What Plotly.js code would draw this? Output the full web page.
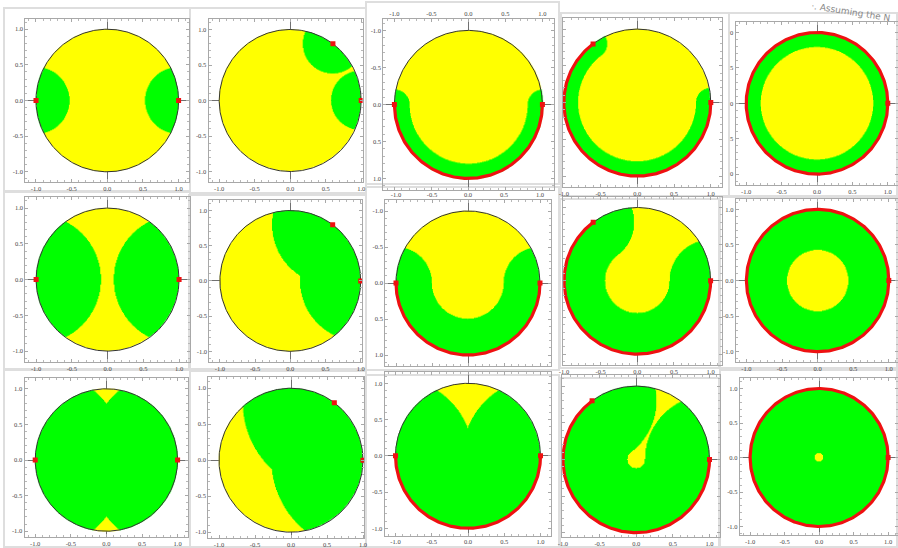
<!DOCTYPE html>
<html><head><meta charset="utf-8">
<script src="https://cdn.plot.ly/plotly-3.0.1.min.js"></script>
<style>html,body{margin:0;padding:0;background:#fff}#chart{width:898px;height:548px}</style>
</head><body><div id="chart"></div>
<script>
// ---------- DATA ----------
// red boundary points, angles in degrees
const col1Points = [0, 180];
const col2Points = [0, 53];
// red boundary arcs [startDeg, endDeg] (counter-clockwise)
const col3ArcFlipped = [0, 180];   // rows 1-2 are shown upside down
const col3ArcRow3 = [180, 360];
const col4Arc = [127, 360];
const col5Arc = [0, 360];
// reach (distance from the red set that is green), per row
const col1Reach = [0.47, 0.91, 1.277];
const col2Reach = [0.42, 0.86, 1.27];
const col3Reach = [0.205, 0.50, 1.07];
const col4Reach = [0.195, 0.56, 0.88];
const col5Reach = [0.205, 0.57, 0.94];
// tick labels
const tickVals = [-1, -0.5, 0, 0.5, 1];
const tickText = ['-1.0', '-0.5', '0.0', '0.5', '1.0'];
const tickTextCut = ['0', '5', '0', '5', '0'];
const diskRadius = 1;
const watermark = '\u00b7. Assuming the N';

// ---------- LAYOUT OF THE COLLAGE ----------
const W = 898, H = 548;
const panels = [
  {cx:107.3, cy:100.5, R:71.3, pts:col1Points, arcs:[], reach:col1Reach[0]},
  {cx:290.2, cy:100.5, R:71.0, pts:col2Points, arcs:[], reach:col2Reach[0], xhi:1.02},
  {cx:468.4, cy:104.4, R:74.0, pts:[], arcs:[col3ArcFlipped], reach:col3Reach[0], flip:true},
  {cx:637.3, cy:102.6, R:73.5, pts:[], arcs:[col4Arc], reach:col4Reach[0], xlo:-1.01, noY:true},
  {cx:817.0, cy:103.3, R:70.8, pts:[], arcs:[col5Arc], reach:col5Reach[0], cutY:true},
  {cx:107.6, cy:279.6, R:71.5, pts:col1Points, arcs:[], reach:col1Reach[1]},
  {cx:290.3, cy:280.9, R:70.4, pts:col2Points, arcs:[], reach:col2Reach[1], xhi:1.02},
  {cx:468.0, cy:283.0, R:72.0, pts:[], arcs:[col3ArcFlipped], reach:col3Reach[1], flip:true},
  {cx:637.3, cy:280.8, R:73.3, pts:[], arcs:[col4Arc], reach:col4Reach[1], xlo:-1.01, noY:true},
  {cx:817.6, cy:280.5, R:71.2, pts:[], arcs:[col5Arc], reach:col5Reach[1]},
  {cx:106.4, cy:460.0, R:71.2, pts:col1Points, arcs:[], reach:col1Reach[2], ylo:-1.08},
  {cx:291.0, cy:460.2, R:72.0, pts:col2Points, arcs:[], reach:col2Reach[2], xhi:1.02, ylo:-1.08},
  {cx:468.0, cy:455.8, R:72.5, pts:[], arcs:[col3ArcRow3], reach:col3Reach[2], ylo:-1.10},
  {cx:636.2, cy:459.4, R:73.3, pts:[], arcs:[col4Arc], reach:col4Reach[2], xlo:-1.01, noY:true, ylo:-1.06},
  {cx:819.1, cy:457.5, R:69.0, pts:[], arcs:[col5Arc], reach:col5Reach[2], ylo:-1.12}
];
// screenshot frames [x0,y0,x1,y1] in px
const frames = [
  [4,8,190,192],[190,8,366,193],[366,2,559,184],[561,13,729,196],[729,13,897,196],
  [4,191,190,369],[189,195,366,369],[366,187,559,370],[560,199,719,368],[720,197,897,368],
  [4,370,190,547],[190,371,366,547],[366,375,559,547],[560,378,719,547],[720,370,897,547]
];

const D = Math.PI / 180;
function inArc(phi, a0, a1) {
  if (a1 - a0 >= 360) return true;
  const d = (((phi - a0) % 360) + 360) % 360;
  return d <= (a1 - a0);
}
function distToSet(x, y, pts, arcs) {
  let best = Infinity;
  for (const a of pts) best = Math.min(best, Math.hypot(x - Math.cos(a*D)*diskRadius, y - Math.sin(a*D)*diskRadius));
  const rho = Math.hypot(x, y), phi = Math.atan2(y, x) / D;
  for (const [a0, a1] of arcs) {
    if (inArc(phi, a0, a1)) best = Math.min(best, diskRadius - rho);
    else {
      for (const a of [a0, a1]) best = Math.min(best, Math.hypot(x - Math.cos(a*D)*diskRadius, y - Math.sin(a*D)*diskRadius));
    }
  }
  return best;
}

const N = 301;
const grid = [];
for (let i = 0; i < N; i++) grid.push(-diskRadius + 2 * diskRadius * i / (N - 1));

const traces = [], layout = {
  width: W, height: H, margin: {l:0, r:0, t:0, b:0},
  paper_bgcolor: '#ffffff', plot_bgcolor: '#ffffff', showlegend: false,
  shapes: [], annotations: []
};

frames.forEach(f => {
  layout.shapes.push({type:'rect', xref:'paper', yref:'paper', layer:'below',
    x0:f[0]/W, x1:f[2]/W, y0:1-f[3]/H, y1:1-f[1]/H,
    line:{color:'#dedede', width:2}, fillcolor:'rgba(0,0,0,0)'});
});

panels.forEach((p, k) => {
  const n = k + 1, xa = 'x' + (n === 1 ? '' : n), ya = 'y' + (n === 1 ? '' : n);
  const xlo = p.xlo ?? -1.15;
  const xhi = Math.min(p.xhi ?? 1.15, (W - 0.5 - p.cx) / p.R);
  const ylo = p.ylo ?? -1.15, yhi = 1.15;
  const px0 = p.cx + xlo * p.R, px1 = p.cx + xhi * p.R;
  const pyTop = p.cy - yhi * p.R, pyBot = p.cy - ylo * p.R;
  const axBase = {
    showgrid:false, zeroline:true, zerolinecolor:'#707070', zerolinewidth:1,
    showline:true, mirror:'ticks', linecolor:'#a8a8a8', linewidth:1,
    ticks:'inside', ticklen:3, tickwidth:1, tickcolor:'#a8a8a8',
    tickmode:'array', tickvals:tickVals, ticktext:tickText,
    tickfont:{family:'Liberation Serif, DejaVu Serif, serif', size:6.5, color:'#444'},
    minor:{ticks:'inside', ticklen:2, tickwidth:1, tickcolor:'#b8b8b8', dtick:0.1, tick0:0},
    layer:'above traces', fixedrange:true
  };
  const xkey = 'xaxis' + (n === 1 ? '' : n), ykey = 'yaxis' + (n === 1 ? '' : n);
  layout[xkey] = Object.assign({}, axBase, {
    domain:[px0 / W, px1 / W], range:[xlo, xhi], anchor: ya,
    side: p.flip ? 'top' : 'bottom'
  });
  layout[ykey] = Object.assign({}, axBase, {
    domain:[1 - pyBot / H, 1 - pyTop / H],
    range: p.flip ? [yhi, ylo] : [ylo, yhi], anchor: xa,
    showticklabels: !p.noY,
    ticktext: p.cutY ? tickTextCut : tickText
  });

  // yellow / green regions
  const z = [];
  for (let j = 0; j < N; j++) {
    const row = [];
    for (let i = 0; i < N; i++) {
      const x = grid[i], y = grid[j];
      if (x*x + y*y > diskRadius*diskRadius * 1.004) { row.push(null); continue; }
      row.push(distToSet(x, y, p.pts, p.arcs) < p.reach ? 1 : 0);
    }
    z.push(row);
  }
  traces.push({type:'heatmap', x:grid, y:grid, z:z, xaxis:xa, yaxis:ya, zmin:0, zmax:1,
    colorscale:[[0,'#ffff00'],[1,'#00ff00']], showscale:false, hoverinfo:'skip', zsmooth:'fast'});

  // disk outline
  const cxs = [], cys = [];
  for (let a = 0; a <= 360; a += 1) { cxs.push(Math.cos(a*D)*diskRadius); cys.push(Math.sin(a*D)*diskRadius); }
  traces.push({type:'scatter', mode:'lines', x:cxs, y:cys, xaxis:xa, yaxis:ya,
    line:{color:'#333', width:1}, hoverinfo:'skip'});

  // red arcs
  p.arcs.forEach(([a0, a1]) => {
    const ax = [], ay = [];
    for (let a = a0; a <= a1 + 1e-9; a += 1) { ax.push(Math.cos(a*D)*diskRadius); ay.push(Math.sin(a*D)*diskRadius); }
    traces.push({type:'scatter', mode:'lines', x:ax, y:ay, xaxis:xa, yaxis:ya,
      line:{color:'#ee1111', width:3.2}, hoverinfo:'skip', cliponaxis:true});
  });
  // red points (isolated points and arc ends)
  const mp = p.pts.slice();
  p.arcs.forEach(([a0, a1]) => { mp.push(a0); if (a1 - a0 < 360) mp.push(a1); });
  traces.push({type:'scatter', mode:'markers',
    x: mp.map(a => Math.cos(a*D)*diskRadius), y: mp.map(a => Math.sin(a*D)*diskRadius),
    xaxis:xa, yaxis:ya, marker:{color:'#ee1111', size:5, symbol:'square'}, hoverinfo:'skip'});
});

layout.annotations.push({xref:'paper', yref:'paper', x:851/W, y:1-12/H, xanchor:'center', yanchor:'middle',
  text:watermark, showarrow:false, textangle:9,
  font:{family:'DejaVu Sans, sans-serif', size:9, color:'#8a8a8a'}});

Plotly.newPlot('chart', traces, layout, {staticPlot:true, displayModeBar:false});
</script>
</body></html>
